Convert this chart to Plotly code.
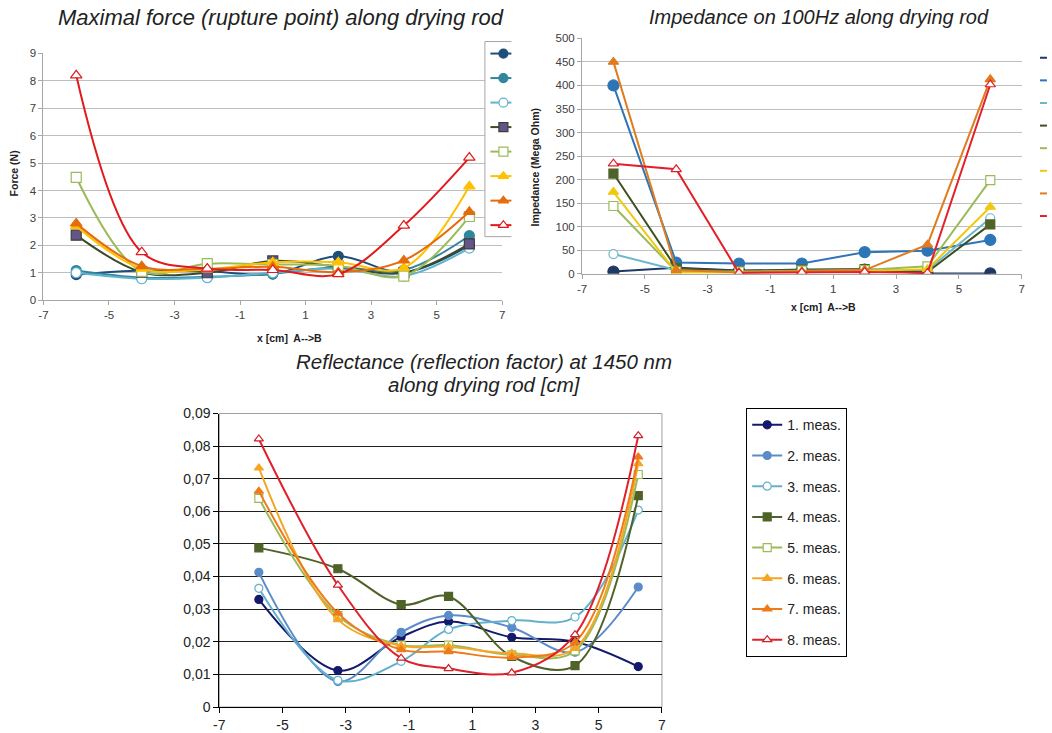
import plotly.graph_objects as go

W, H = 1052, 733

# ---------------- data ----------------
series_names = ["1. meas.", "2. meas.", "3. meas.", "4. meas.",
                "5. meas.", "6. meas.", "7. meas.", "8. meas."]

x_force = [-6, -4, -2, 0, 2, 4, 6]
force_1 = [0.93, 1.08, 1.05, 0.95, 1.60, 1.02, 2.00]
force_2 = [1.08, 0.82, 0.85, 0.97, 1.20, 1.10, 2.35]
force_3 = [1.00, 0.78, 0.82, 1.00, 1.15, 0.88, 1.90]
force_4 = [2.37, 1.02, 1.00, 1.43, 1.22, 1.00, 2.05]
force_5 = [4.48, 1.05, 1.33, 1.30, 1.25, 0.88, 3.05]
force_6 = [2.70, 1.15, 1.12, 1.38, 1.38, 1.18, 4.15]
force_7 = [2.80, 1.24, 1.15, 1.22, 1.02, 1.45, 3.22]
force_8 = [8.20, 1.75, 1.15, 1.10, 0.95, 2.72, 5.20]

x_imp = [-6, -4, -2, 0, 2, 4, 6]
imp_1 = [5, 13, 7, 8, 9, 1, 1]
imp_2 = [400, 24, 22, 22, 46, 49, 72]
imp_3 = [42, 8, 5, 6, 6, 8, 118]
imp_4 = [213, 12, 6, 9, 10, 4, 105]
imp_5 = [144, 5, 5, 7, 8, 16, 199]
imp_6 = [174, 3, 3, 5, 6, 10, 142]
imp_7 = [450, 8, 3, 5, 8, 62, 413]
imp_8 = [234, 222, 2, 3, 4, 2, 402]

x_refl = [-5.75, -3.25, -1.25, 0.25, 2.25, 4.25, 6.25]
refl_1 = [0.0330, 0.0112, 0.0215, 0.0262, 0.0214, 0.0200, 0.0124]
refl_2 = [0.0413, 0.0078, 0.0229, 0.0281, 0.0244, 0.0168, 0.0368]
refl_3 = [0.0364, 0.0082, 0.0140, 0.0238, 0.0265, 0.0276, 0.0604]
refl_4 = [0.0488, 0.0424, 0.0314, 0.0339, 0.0155, 0.0127, 0.0648]
refl_5 = [0.0640, 0.0280, 0.0190, 0.0190, 0.0160, 0.0172, 0.0713]
refl_6 = [0.0733, 0.0268, 0.0188, 0.0185, 0.0165, 0.0180, 0.0746]
refl_7 = [0.0662, 0.0288, 0.0176, 0.0170, 0.0152, 0.0199, 0.0767]
refl_8 = [0.0822, 0.0374, 0.0150, 0.0118, 0.0105, 0.0222, 0.0832]

x_tickvals = [-7, -5, -3, -1, 1, 3, 5, 7]
x_ticktext = ["-7", "-5", "-3", "-1", "1", "3", "5", "7"]
refl_tickvals = [0, 0.01, 0.02, 0.03, 0.04, 0.05, 0.06, 0.07, 0.08, 0.09]
refl_ticktext = ["0", "0,01", "0,02", "0,03", "0,04", "0,05", "0,06", "0,07", "0,08", "0,09"]

force_data = [force_1, force_2, force_3, force_4, force_5, force_6, force_7, force_8]
imp_data = [imp_1, imp_2, imp_3, imp_4, imp_5, imp_6, imp_7, imp_8]
refl_data = [refl_1, refl_2, refl_3, refl_4, refl_5, refl_6, refl_7, refl_8]

# ---------------- styles ----------------
# (line colour, marker symbol, marker fill, marker border)
force_style = [
    ("#1F4E79", "circle", "#1F4E79", "#1F4E79"),
    ("#31859C", "circle", "#31859C", "#31859C"),
    ("#5FB3CF", "circle", "white", "#5FB3CF"),
    ("#3D4A2A", "square", "#64548A", "#3D3D3D"),
    ("#9BBB59", "square", "white", "#9BBB59"),
    ("#FFC000", "triangle-up", "#FFC000", "#FFC000"),
    ("#E46C0A", "triangle-up", "#E46C0A", "#E46C0A"),
    ("#E31A1C", "triangle-up", "white", "#E31A1C"),
]
imp_style = [
    ("#1F3864", "circle", "#1F3864", "#1F3864"),
    ("#2E75B6", "circle", "#2E75B6", "#2E75B6"),
    ("#6FB6CC", "circle", "white", "#6FB6CC"),
    ("#3F4F24", "square", "#4F6228", "#4F6228"),
    ("#9BBB59", "square", "white", "#9BBB59"),
    ("#F2C80F", "triangle-up", "#F2C80F", "#F2C80F"),
    ("#E07B1F", "triangle-up", "#E07B1F", "#E07B1F"),
    ("#E3202A", "triangle-up", "white", "#E3202A"),
]
refl_style = [
    ("#14196B", "circle", "#14196B", "#14196B"),
    ("#5B8CC8", "circle", "#5B8CC8", "#5B8CC8"),
    ("#63B0CC", "circle", "white", "#63B0CC"),
    ("#4F6228", "square", "#4F6228", "#4F6228"),
    ("#9BBB59", "square", "white", "#9BBB59"),
    ("#F6A623", "triangle-up", "#F6A623", "#F6A623"),
    ("#EE7A1A", "triangle-up", "#EE7A1A", "#EE7A1A"),
    ("#E0202A", "triangle-up", "white", "#D0202A"),
]

# mapping from target picture pixels to layout pixels (compensates page offset/scale)
SX, OX = 0.9913, 5.2
SY, OY = 0.9764, 7.96


def fx(t):
    return ((t - OX) / SX) / W


def fy(t):
    return 1 - ((t - OY) / SY) / H


fig = go.Figure()

# Force chart (smoothed)
for vals, (lc, sym, fc, bc) in zip(force_data, force_style):
    fig.add_trace(go.Scatter(
        x=x_force, y=vals, mode="lines+markers", xaxis="x", yaxis="y",
        line=dict(color=lc, width=2, shape="spline", smoothing=1.0),
        marker=dict(symbol=sym, size=10, color=fc, line=dict(color=bc, width=1.2)),
        showlegend=False, hoverinfo="skip"))

# Impedance chart (straight lines)
for vals, (lc, sym, fc, bc) in zip(imp_data, imp_style):
    fig.add_trace(go.Scatter(
        x=x_imp, y=vals, mode="lines+markers", xaxis="x2", yaxis="y2",
        line=dict(color=lc, width=2),
        marker=dict(symbol=sym, size=9 if sym != "circle" or fc == "white" else 11,
                    color=fc, line=dict(color=bc, width=1.2)),
        showlegend=False, hoverinfo="skip"))

# Reflectance chart (smoothed, with legend)
for i, (vals, (lc, sym, fc, bc)) in enumerate(zip(refl_data, refl_style)):
    fig.add_trace(go.Scatter(
        x=x_refl, y=vals, mode="lines+markers", xaxis="x3", yaxis="y3",
        name=series_names[i], legendgroup="g%d" % i,
        line=dict(color=lc, width=2, shape="spline", smoothing=1.0),
        marker=dict(symbol=sym, size=8, color=fc, line=dict(color=bc, width=1.2)),
        showlegend=True, hoverinfo="skip"))

# ---- clipped legends of the two upper charts (drawn on a pixel overlay) ----
box_l, box_r, box_t, box_b = 484.5, 511, 41.5, 236.5
fig.add_trace(go.Scatter(
    x=[box_r, box_l, box_l, box_r], y=[box_t, box_t, box_b, box_b],
    mode="lines", fill="toself", fillcolor="white",
    line=dict(color="#A6A6A6", width=1), xaxis="x4", yaxis="y4",
    showlegend=False, hoverinfo="skip"))
for i, (lc, sym, fc, bc) in enumerate(force_style):
    yy = 53.5 + i * 24.5
    fig.add_trace(go.Scatter(x=[490, 511], y=[yy, yy], mode="lines",
                             line=dict(color=lc, width=2), xaxis="x4", yaxis="y4",
                             showlegend=False, hoverinfo="skip"))
    fig.add_trace(go.Scatter(x=[503], y=[yy], mode="markers",
                             marker=dict(symbol=sym, size=9, color=fc,
                                         line=dict(color=bc, width=1.2)),
                             xaxis="x4", yaxis="y4", showlegend=False, hoverinfo="skip"))
for i, (lc, sym, fc, bc) in enumerate(imp_style):
    yy = 57.7 + i * 22.6
    fig.add_trace(go.Scatter(x=[1040, 1047], y=[yy, yy], mode="lines",
                             line=dict(color=lc, width=2), xaxis="x4", yaxis="y4",
                             showlegend=False, hoverinfo="skip"))

small_tick_font = dict(family="Liberation Sans", size=11.5, color="#404040")
axis_grey = "#A6A6A6"

layout = dict(
    width=W, height=H, autosize=False,
    margin=dict(l=0, r=0, t=0, b=0),
    paper_bgcolor="white", plot_bgcolor="rgba(0,0,0,0)",
    # force
    xaxis=dict(domain=[fx(42.7), fx(501.7)], range=[-7, 7], anchor="y",
               tickvals=x_tickvals, ticktext=x_ticktext, showgrid=False, zeroline=False,
               showline=True, linecolor=axis_grey, ticks="outside", ticklen=4,
               tickcolor=axis_grey, tickfont=small_tick_font),
    yaxis=dict(domain=[fy(300), fy(53.3)], range=[0, 9], anchor="x",
               dtick=1, tick0=0, showgrid=True, gridcolor="#BFBFBF", zeroline=False,
               showline=True, linecolor=axis_grey, ticks="outside", ticklen=4,
               tickcolor=axis_grey, tickfont=small_tick_font),
    # impedance
    xaxis2=dict(domain=[fx(581.7), fx(1021.7)], range=[-7, 7], anchor="y2",
                tickvals=x_tickvals, ticktext=x_ticktext, showgrid=False, zeroline=False,
                showline=True, linecolor=axis_grey, ticks="outside", ticklen=4,
                tickcolor=axis_grey, tickfont=small_tick_font),
    yaxis2=dict(domain=[fy(273.7), fy(38.3)], range=[0, 500], anchor="x2",
                dtick=50, tick0=0, showgrid=True, gridcolor="#BFBFBF", zeroline=False,
                showline=True, linecolor=axis_grey, ticks="outside", ticklen=4,
                tickcolor=axis_grey, tickfont=small_tick_font),
    # reflectance
    xaxis3=dict(domain=[fx(218.7), fx(661.7)], range=[-7, 7], anchor="y3",
                tickvals=x_tickvals, ticktext=x_ticktext, showgrid=False, zeroline=False,
                showline=True, linecolor="#000000", ticks="outside", ticklen=5,
                tickcolor="#000000",
                tickfont=dict(family="Liberation Sans", size=14, color="#222222")),
    yaxis3=dict(domain=[fy(706.7), fy(413.3)], range=[0, 0.09], anchor="x3",
                tickvals=refl_tickvals, ticktext=refl_ticktext,
                showgrid=True, gridcolor="#1E1E1E", gridwidth=1, zeroline=False,
                showline=True, linecolor="#000000", ticks="outside", ticklen=5,
                tickcolor="#000000",
                tickfont=dict(family="Liberation Sans", size=14, color="#222222")),
    # pixel overlay for legend glyphs (axis ranges expressed in target pixels)
    xaxis4=dict(domain=[0, 1], range=[OX, OX + SX * W], anchor="y4",
                visible=False, fixedrange=True),
    yaxis4=dict(domain=[0, 1], range=[OY + SY * H, OY], anchor="x4",
                visible=False, fixedrange=True),
    legend=dict(x=fx(746), y=fy(408), xanchor="left", yanchor="top",
                bordercolor="#000000", borderwidth=1, bgcolor="white",
                font=dict(family="Liberation Sans", size=14, color="#222222"),
                tracegroupgap=9.5, itemwidth=30),
    showlegend=True,
)
fig.update_layout(**layout)

# plot area border (grey) for the reflectance chart
fig.add_shape(type="rect", xref="x3 domain", yref="y3 domain", x0=0, x1=1, y0=0, y1=1,
              line=dict(color="#A0A0A0", width=1), layer="below")

ann = [
    dict(text="<i>Maximal force (rupture point) along drying rod</i>", x=fx(280), y=fy(17),
         font=dict(family="Liberation Sans", size=22, color="#222222")),
    dict(text="<i>Impedance on 100Hz along drying rod</i>", x=fx(819), y=fy(17),
         font=dict(family="Liberation Sans", size=20, color="#222222")),
    dict(text="<i>Reflectance (reflection factor) at 1450 nm</i>", x=fx(484), y=fy(361),
         font=dict(family="Liberation Sans", size=20.5, color="#222222")),
    dict(text="<i>along drying rod [cm]</i>", x=fx(484), y=fy(384),
         font=dict(family="Liberation Sans", size=20.5, color="#222222")),
    dict(text="<b>Force (N)</b>", x=fx(13.5), y=fy(173), textangle=-90,
         font=dict(family="Liberation Sans", size=10.5, color="#222222")),
    dict(text="<b>x [cm]\u00a0 A--&gt;B</b>", x=fx(289), y=fy(338),
         font=dict(family="Liberation Sans", size=10.5, color="#222222")),
    dict(text="<b>Impedance (Mega Ohm)</b>", x=fx(535), y=fy(167), textangle=-90,
         font=dict(family="Liberation Sans", size=10.5, color="#222222")),
    dict(text="<b>x [cm]\u00a0 A--&gt;B</b>", x=fx(823), y=fy(307),
         font=dict(family="Liberation Sans", size=10.5, color="#222222")),
]
for a in ann:
    a.update(xref="paper", yref="paper", showarrow=False, xanchor="center", yanchor="middle")
    fig.add_annotation(**a)

fig.write_html("out.html", config={"displayModeBar": False},
               post_script="document.body.style.margin='0';document.body.style.overflow='hidden';")
